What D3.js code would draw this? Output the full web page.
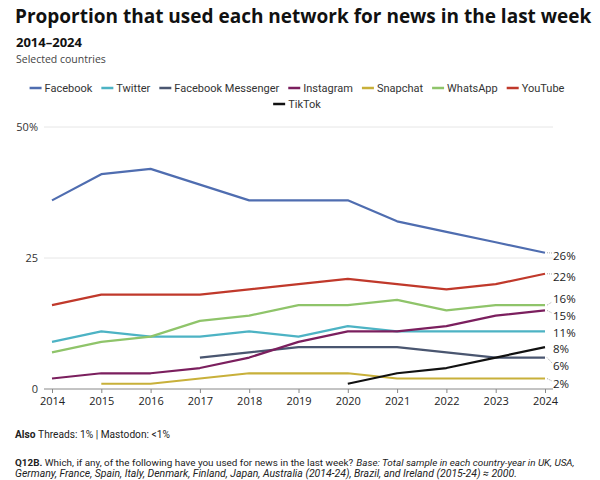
<!DOCTYPE html>
<html><head><meta charset="utf-8">
<script src="https://cdn.jsdelivr.net/npm/d3@7"></script>
<style>
body{margin:0;background:#fff;}
svg{font-family:"Open Sans",sans-serif;}
</style></head>
<body><svg id="c" width="600" height="480"></svg>
<script>
const years = [2014,2015,2016,2017,2018,2019,2020,2021,2022,2023,2024];
const seriesNames = ["Facebook","Twitter","Facebook Messenger","Instagram","Snapchat","WhatsApp","YouTube","TikTok"];
const colors = ["#4f6db0","#4db3c4","#4a5670","#7b1f5e","#c8b03a","#8fc46a","#c0392b","#111111"];
const facebook  = [36,41,42,39,36,36,36,32,30,28,26];
const twitter   = [9,11,10,10,11,10,12,11,11,11,11];
const messenger = [null,null,null,6,7,8,8,8,7,6,6];
const instagram = [2,3,3,4,6,9,11,11,12,14,15];
const snapchat  = [null,1,1,2,3,3,3,2,2,2,2];
const whatsapp  = [7,9,10,13,14,16,16,17,15,16,16];
const youtube   = [16,18,18,18,19,20,21,20,19,20,22];
const tiktok    = [null,null,null,null,null,null,1,3,4,6,8];
const yTicks = [0,25,50];
const yTickLabels = ["0","25","50%"];
const endLabels = ["26%","22%","16%","15%","11%","8%","6%","2%"];
const endLabelSeries = [0,6,5,3,1,7,2,4];

const data = [facebook,twitter,messenger,instagram,snapchat,whatsapp,youtube,tiktok];
const svg = d3.select("#c");
const x = d3.scaleLinear().domain([2014,2024]).range([52,545]);
const y = d3.scaleLinear().domain([0,50]).range([389,127]);

function fit(sel, target){
  const w = sel.node().getComputedTextLength();
  const fs = parseFloat(sel.attr("font-size"));
  sel.attr("font-size", fs*target/w);
}

svg.append("text").attr("x",15).attr("y",23).attr("font-size",19).attr("font-weight",700).attr("fill","#111")
  .text("Proportion that used each network for news in the last week");
svg.append("text").attr("x",16).attr("y",47).attr("font-size",13).attr("font-weight",700).attr("fill","#111").text("2014–2024");
svg.append("text").attr("x",16).attr("y",63).attr("font-size",10.5).attr("fill","#444").text("Selected countries");

// legend (centered rows)
const legendRows = [[0,1,2,3,4,5,6],[7]];
const legendCenter = 297, sw = 12, swGap = 3, itemGap = 9;
legendRows.forEach((row,ri)=>{
  const ly = 88 + ri*16;
  const g = svg.append("g");
  const items = row.map(i=>{
    const t = g.append("text").attr("y",ly+4).attr("font-size",11).attr("fill","#333")
      .attr("font-family","Roboto").text(seriesNames[i]);
    return {i, t, w: t.node().getComputedTextLength()};
  });
  const total = d3.sum(items, d=>sw+swGap+d.w) + itemGap*(items.length-1);
  let cx = legendCenter - total/2;
  items.forEach(d=>{
    g.append("line").attr("x1",cx).attr("x2",cx+sw).attr("y1",ly).attr("y2",ly)
      .attr("stroke",colors[d.i]).attr("stroke-width",2.5);
    d.t.attr("x",cx+sw+swGap);
    cx += sw+swGap+d.w+itemGap;
  });
});

// grid
svg.append("g").selectAll("line").data(yTicks.filter(v=>v>0)).join("line")
  .attr("x1",44).attr("x2",553).attr("y1",d=>y(d)).attr("y2",d=>y(d))
  .attr("stroke","#e6e6e6").attr("stroke-width",1);
svg.append("g").selectAll("text").data(yTicks).join("text")
  .attr("x",38).attr("y",d=>y(d)+4).attr("text-anchor","end").attr("font-size",11).attr("fill","#333")
  .text((d,i)=>yTickLabels[i]);

// x axis
const xAxis = d3.axisBottom(x).tickValues(years).tickFormat(d3.format("d")).tickSize(4).tickSizeOuter(0);
const ax = svg.append("g").attr("transform","translate(0,389)").call(xAxis);
ax.select(".domain").attr("d","M44,0H553").attr("stroke","#888");
ax.selectAll(".tick line").attr("stroke","#888");
ax.selectAll(".tick text").attr("font-size",11).attr("fill","#222").attr("font-family","Open Sans").attr("dy","0.85em");

// lines
const line = d3.line().defined(d=>d[1]!==null).x(d=>x(d[0])).y(d=>y(d[1]));
data.forEach((vals,i)=>{
  svg.append("path").datum(years.map((yr,j)=>[yr,vals[j]]))
    .attr("d",line).attr("fill","none").attr("stroke",colors[i]).attr("stroke-width",2.2)
    .attr("stroke-linejoin","round");
});

// end labels
const labelY = [256,277,299,316,333,349,366,384];
endLabels.forEach((t,i)=>{
  const sv = data[endLabelSeries[i]][years.length-1];
  const ly = y(sv);
  if (Math.abs(ly - labelY[i]) > 3) {
    svg.append("line").attr("x1",547).attr("y1",ly).attr("x2",552).attr("y2",labelY[i] + (ly<labelY[i]?-3:3))
      .attr("stroke","#aaa").attr("stroke-width",1).attr("stroke-dasharray","1,1");
  }
  svg.append("text").attr("x",553).attr("y",labelY[i]+4).attr("font-size",11.5).attr("fill","#222").text(t);
});

// footer: pieces laid out side by side
function pieces(parts, x0, yb, fs, target){
  const g = svg.append("g");
  const els = parts.map(p=>{
    const t = g.append("text").attr("y",yb).attr("font-size",fs).attr("font-family","Roboto").attr("fill","#222").text(p.t);
    if (p.b) t.attr("font-weight",700);
    if (p.i) t.attr("font-style","italic");
    return t;
  });
  const space = fs*0.25;
  const widths = els.map(e=>e.node().getComputedTextLength());
  const total = d3.sum(widths) + space*(els.length-1);
  const k = target ? target/total : 1;
  const f2 = fs*k;
  let cx = x0;
  els.forEach((e,j)=>{
    e.attr("font-size",f2).attr("x",cx);
    cx += widths[j]*k + space*k;
  });
}
pieces([{t:"Also",b:true},{t:"Threads: 1% | Mastodon: <1%"}], 15, 438, 10, 155);
pieces([{t:"Q12B.",b:true},{t:"Which, if any, of the following have you used for news in the last week?"},
        {t:"Base: Total sample in each country-year in UK, USA,",i:true}], 15, 466, 10, 560);
pieces([{t:"Germany, France, Spain, Italy, Denmark, Finland, Japan, Australia (2014-24), Brazil, and Ireland (2015-24) ≈ 2000.",i:true}], 15, 477, 10, 502);
</script></body></html>
